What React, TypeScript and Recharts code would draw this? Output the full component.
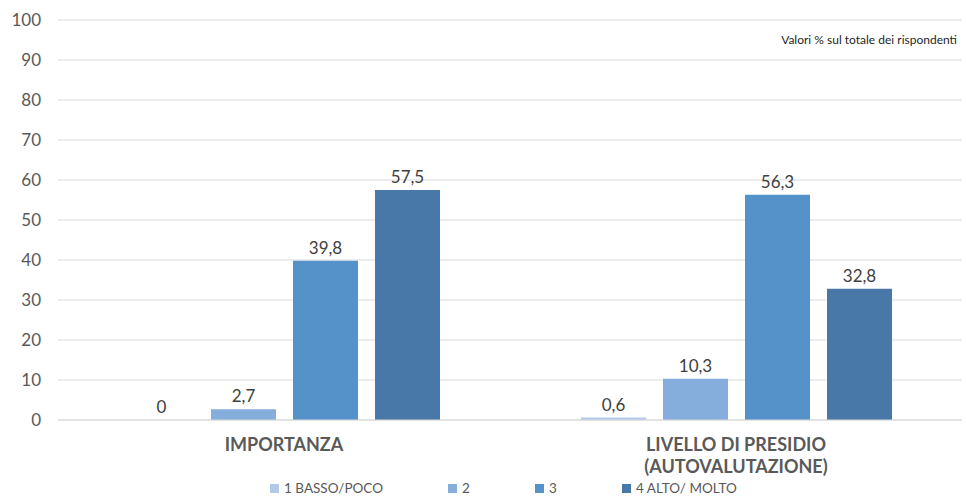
import { BarChart, Bar, XAxis, YAxis, CartesianGrid, LabelList, Legend } from "recharts";

const categories = ["IMPORTANZA", "LIVELLO DI PRESIDIO\n(AUTOVALUTAZIONE)"];
const basso = [0, 0.6];
const due = [2.7, 10.3];
const tre = [39.8, 56.3];
const alto = [57.5, 32.8];
const yTicks = [0, 10, 20, 30, 40, 50, 60, 70, 80, 90, 100];

const series = [
  { key: "s1", name: "1 BASSO/POCO", color: "#b4c9e7" },
  { key: "s2", name: "2", color: "#85aedc" },
  { key: "s3", name: "3", color: "#5592c9" },
  { key: "s4", name: "4 ALTO/ MOLTO", color: "#4778a8" },
];

const data = categories.map((c, i) => ({ cat: c, s1: basso[i], s2: due[i], s3: tre[i], s4: alto[i] }));

const FONT = "Lato, 'Open Sans', sans-serif";

const fmt = (v: any) => String(v).replace(".", ",");

function CatTick({ x, y, payload }: any) {
  const lines = String(payload.value).split("\n");
  return (
    <text x={x} y={y} textAnchor="middle" fill="#595959" fontFamily={FONT} fontWeight={700} fontSize={18}>
      {lines.map((l, i) => (
        <tspan key={i} x={x} dy={i === 0 ? 23 : 22}>{l}</tspan>
      ))}
    </text>
  );
}

const legendLeft = [270, 448, 535, 622];

function LegendBox() {
  return (
    <div style={{ position: "relative", width: 966, height: 22 }}>
      {series.map((s, i) => (
        <div key={s.key} style={{ position: "absolute", left: legendLeft[i], top: 4, display: "flex", alignItems: "center", fontFamily: FONT, fontSize: 13.5, color: "#595959", whiteSpace: "nowrap" }}>
          <span style={{ display: "inline-block", width: 9, height: 9, background: s.color, marginRight: 5 }} />
          {s.name}
        </div>
      ))}
    </div>
  );
}

export default function App() {
  return (
    <div style={{ position: "relative", width: 966, height: 498, background: "#fff" }}>
      <style>{`body{margin:0}`}</style>
      <BarChart width={966} height={498} data={data} margin={{ top: 20, right: 4, left: 0, bottom: 0 }} barCategoryGap={71} barGap={17}>
        <CartesianGrid vertical={false} stroke="#d9d9d9" />
        <XAxis dataKey="cat" height={56} axisLine={{ stroke: "#d9d9d9" }} tickLine={false} tick={<CatTick />} interval={0} />
        <YAxis width={58} domain={[0, 100]} ticks={yTicks} axisLine={false} tickLine={false} tickMargin={11} tick={{ fontSize: 17, fill: "#595959", fontFamily: FONT }} />
        <Legend verticalAlign="bottom" height={22} content={<LegendBox />} />
        {series.map((s) => (
          <Bar key={s.key} dataKey={s.key} name={s.name} fill={s.color} minPointSize={0.01} isAnimationActive={false}>
            <LabelList dataKey={s.key} position="top" offset={7} formatter={fmt} style={{ fontSize: 17, fill: "#404040", fontFamily: FONT }} />
          </Bar>
        ))}
      </BarChart>
      <div style={{ position: "absolute", right: 9, top: 32, fontFamily: FONT, fontSize: 12, color: "#262626" }}>
        Valori % sul totale dei rispondenti
      </div>
    </div>
  );
}
